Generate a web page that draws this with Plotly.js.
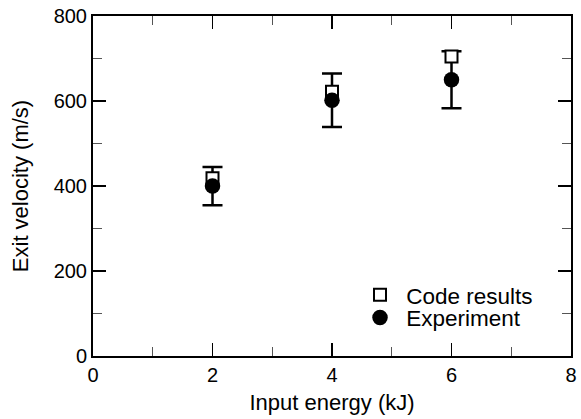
<!DOCTYPE html>
<html>
<head>
<meta charset="utf-8">
<script src="https://cdn.plot.ly/plotly-3.0.1.min.js"></script>
<style>html,body{margin:0;padding:0;background:#fff;}#chart{width:581px;height:419px;}</style>
</head>
<body>
<div id="chart"></div>
<script>
// Data
var energy = [2, 4, 6];                 // Input energy (kJ)
var codeResults = [418, 622, 705];      // Exit velocity (m/s), code
var experiment = [400, 602, 650];       // Exit velocity (m/s), experiment
var experimentError = [45, 63, 67];     // ± error (m/s)
var seriesNames = ['Code results', 'Experiment'];
var xTicks = [0, 2, 4, 6, 8];
var yTicks = [0, 200, 400, 600, 800];

var FONT = 'Liberation Sans, Arial, Helvetica, sans-serif';

var traces = [
  {
    x: energy, y: experiment, type: 'scatter', mode: 'markers',
    marker: {size: 1, color: 'rgba(0,0,0,0)'},
    error_y: {type: 'data', array: experimentError, visible: true, color: '#000', thickness: 2.5, width: 10},
    showlegend: false, hoverinfo: 'skip'
  },
  {
    x: energy, y: codeResults, type: 'scatter', mode: 'markers', name: '\u00a0' + seriesNames[0],
    legend: 'legend',
    marker: {symbol: 'square', size: 12, color: '#fff', line: {color: '#000', width: 2}}
  },
  {
    x: energy, y: experiment, type: 'scatter', mode: 'markers', name: '\u00a0' + seriesNames[1],
    legend: 'legend2',
    marker: {symbol: 'circle', size: 15.5, color: '#000', line: {width: 0}}
  }
];

var axisCommon = {
  showgrid: false, zeroline: false, showline: true, linecolor: '#000', linewidth: 2,
  mirror: 'ticks', ticks: 'inside', ticklen: 13, tickwidth: 1.5, tickcolor: '#000',
  tickfont: {family: FONT, size: 20, color: '#000'}
};

var legendCommon = {
  xanchor: 'left', yanchor: 'middle',
  bgcolor: 'rgba(0,0,0,0)', borderwidth: 0,
  font: {family: FONT, size: 22.5, color: '#000'},
  itemwidth: 30
};

var layout = {
  width: 581, height: 419,
  margin: {l: 93, r: 10, t: 16, b: 63},
  paper_bgcolor: '#fff', plot_bgcolor: '#fff',
  font: {family: FONT, color: '#000'},
  xaxis: Object.assign({}, axisCommon, {
    range: [0, 8], tickvals: xTicks, ticktext: xTicks.map(String),
    minor: {dtick: 1, tick0: 0, ticks: 'inside', ticklen: 9, tickwidth: 1, tickcolor: '#555'},
    title: {text: 'Input energy (kJ)', font: {family: FONT, size: 22, color: '#000'}, standoff: 10}
  }),
  yaxis: Object.assign({}, axisCommon, {
    range: [0, 800], tickvals: yTicks, ticktext: yTicks.map(String),
    minor: {dtick: 100, tick0: 0, ticks: 'inside', ticklen: 9, tickwidth: 1, tickcolor: '#555'},
    title: {text: 'Exit velocity (m/s)', font: {family: FONT, size: 22, color: '#000'}, standoff: 19}
  }),
  legend: Object.assign({}, legendCommon, {x: 0.5586, y: 0.179}),
  legend2: Object.assign({}, legendCommon, {x: 0.5586, y: 0.112}),
  showlegend: true
};

Plotly.newPlot('chart', traces, layout, {displayModeBar: false, staticPlot: true});
</script>
</body>
</html>
